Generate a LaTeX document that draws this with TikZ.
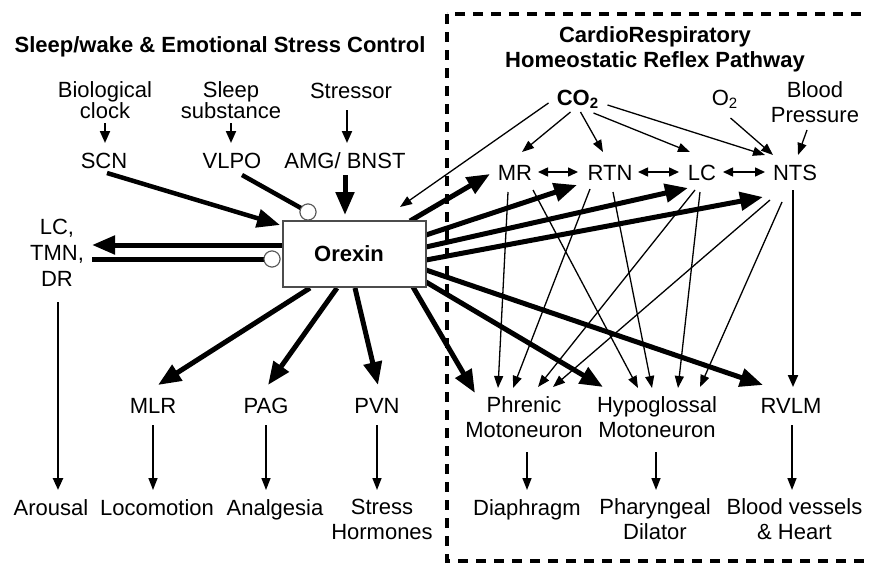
\documentclass[tikz,border=0pt]{standalone}
\usepackage{fontspec}
\setmainfont{Liberation Sans}
\usetikzlibrary{arrows.meta,calc}
\begin{document}
\lineskiplimit=-30pt
\begin{tikzpicture}[x=1pt,y=-1pt,
  every node/.style={inner sep=0pt, outer sep=0pt},
  txt/.style={font=\fontsize{22}{25}\selectfont},
  mtxt/.style={font=\fontsize{22}{25}\selectfont, align=center},
  tighttxt/.style={font=\fontsize{22}{20.5}\selectfont, align=center},
  btxt/.style={font=\bfseries\fontsize{22}{25}\selectfont},
  mbtxt/.style={font=\bfseries\fontsize{22}{25}\selectfont, align=center},
  bigarr/.style={line width=5pt, -{Triangle[length=23pt,width=18pt]}},
  thinarr/.style={line width=1.3pt, -{Triangle[length=12pt,width=9pt]}},
  medarr/.style={line width=2pt, -{Triangle[length=12pt,width=10pt]}},
  dblarr/.style={line width=1.5pt, {Triangle[length=10pt,width=9pt]}-{Triangle[length=10pt,width=9pt]}},
  inhline/.style={line width=4.5pt},
  inhib/.style={circle, draw=black!65, line width=1pt, fill=white, minimum size=16pt},
  dashframe/.style={line width=4.5pt, dash pattern=on 10pt off 8pt},
  orexbox/.style={draw=black!70, line width=1.2pt, fill=white, minimum width=143pt, minimum height=66pt, font=\bfseries\fontsize{22}{25}\selectfont}
]
\useasboundingbox (0,0) rectangle (869,562);
\clip (0,0) rectangle (869,562);
\fill[white] (0,0) rectangle (869,562);

% dashed frame
\draw[dashframe] (447,14) rectangle (890,561);

% titles
\node[btxt, anchor=base] (title1) at (220,52) {Sleep/wake \& Emotional Stress Control};
\node[mbtxt, anchor=north] (title2) at (655,27) {CardioRespiratory\\Homeostatic Reflex Pathway};

% left side nodes
\node[tighttxt, anchor=north] (bio) at (105,82) {Biological\\clock};
\node[tighttxt, anchor=north] (sleepsub) at (231,82) {Sleep\\substance};
\node[txt, anchor=base] (stressor) at (351,98) {Stressor};
\node[txt, anchor=base] (scn) at (104,168) {SCN};
\node[txt, anchor=base] (vlpo) at (232,168) {VLPO};
\node[txt, anchor=base] (amg) at (345,168) {AMG/ BNST};
\node[mtxt, font=\fontsize{22}{26}\selectfont, anchor=north] (lctmn) at (57,219) {LC,\\TMN,\\DR};
\node[txt, anchor=base] (mlr) at (153,413) {MLR};
\node[txt, anchor=base] (pag) at (266,413) {PAG};
\node[txt, anchor=base] (pvn) at (377,413) {PVN};
\node[txt, anchor=base] (arousal) at (51,515) {Arousal};
\node[txt, anchor=base] (loco) at (157,515) {Locomotion};
\node[txt, anchor=base] (analg) at (275,515) {Analgesia};
\node[mtxt, anchor=north] (stressh) at (382,499) {Stress\\Hormones};

% right side nodes
\node[btxt, anchor=base] (co2) at (577.5,105) {CO\raisebox{-3pt}{\fontsize{15}{15}\selectfont 2}};
\node[txt, anchor=base] (o2) at (724.5,105) {O\raisebox{-3pt}{\fontsize{15}{15}\selectfont 2}};
\node[mtxt, anchor=north] (bp) at (815,82) {Blood\\Pressure};
\node[txt, anchor=base] (mr) at (515,180) {MR};
\node[txt, anchor=base] (rtn) at (610,180) {RTN};
\node[txt, anchor=base] (lc) at (702,180) {LC};
\node[txt, anchor=base] (nts) at (795,180) {NTS};
\node[mtxt, anchor=north] (phr) at (524,397) {Phrenic\\Motoneuron};
\node[mtxt, anchor=north] (hyp) at (657,397) {Hypoglossal\\Motoneuron};
\node[txt, anchor=base] (rvlm) at (791,413) {RVLM};
\node[txt, anchor=base] (dia) at (527,515) {Diaphragm};
\node[mtxt, anchor=north] (pharyn) at (655,499) {Pharyngeal\\Dilator};
\node[mtxt, anchor=north] (bloodv) at (794.5,499) {Blood vessels\\\& Heart};

% Orexin box
\node[orexbox] (orexin) at (354.5,254) {\hspace*{-11pt}Orexin};

% inputs to left nodes
\draw[medarr] ($(bio.north)+(0,41)$) -- ($(scn.base)+(1,-25)$);
\draw[medarr] ($(sleepsub.north)+(0,41)$) -- ($(vlpo.base)+(-1,-25)$);
\draw[medarr] ($(stressor.base)+(-4,12)$) -- ($(amg.base)+(2,-25)$);

% into Orexin
\draw[bigarr, line width=4.5pt] ($(scn.base)+(3,5)$) -- ($(orexin.north west)+(-3,4)$);
\draw[bigarr] ($(amg.base)+(0,7)$) -- ($(orexin.north)+(-9.5,-6)$);
\draw[thinarr] ($(co2.base)+(-29,-2)$) -- ($(orexin.north east)+(-26,-14)$);

% inhibitory
\node[inhib] (c1) at ($(orexin.north west)+(25,-9)$) {};
\node[inhib] (c2) at ($(orexin.west)+(-11,5)$) {};
\draw[inhline] ($(vlpo.base)+(10,7)$) -- (c1);
\draw[inhline, line width=5pt] ($(lctmn.north)+(35,40)$) -- (c2);

% Orexin to left/bottom
\draw[bigarr] ($(orexin.west)+(0,-9)$) -- ($(lctmn.north)+(35,26)$);
\draw[medarr, line width=2.5pt] ($(lctmn.north)+(1,83)$) -- ($(arousal.base)+(7,-25)$);
\draw[bigarr] ($(orexin.south west)+(27,1)$) -- ($(mlr.base)+(5,-28)$);
\draw[bigarr] ($(orexin.south west)+(54,1)$) -- ($(pag.base)+(2,-28)$);
\draw[bigarr] ($(orexin.south)+(0.5,1)$) -- ($(pvn.base)+(1,-28)$);
\draw[thinarr, line width=1.5pt] ($(mlr.base)+(0,12)$) -- ($(loco.base)+(-4,-25)$);
\draw[thinarr, line width=1.5pt] ($(pag.base)+(0,12)$) -- ($(analg.base)+(-9,-25)$);
\draw[thinarr, line width=1.5pt] ($(pvn.base)+(0,12)$) -- ($(stressh.north)+(-5,-9)$);

% Orexin to right
\draw[bigarr] ($(orexin.north east)+(-16,0)$) -- ($(mr.base)+(-25,-6)$);
\draw[bigarr] ($(orexin.north east)+(0,14)$) -- ($(rtn.base)+(-33,5)$);
\draw[bigarr] ($(orexin.north east)+(0,26)$) -- ($(lc.base)+(-14,8)$);
\draw[bigarr] ($(orexin.north east)+(0,39)$) -- ($(nts.base)+(-32,17)$);
\draw[bigarr] ($(orexin.north east)+(0,49)$) -- ($(rvlm.base)+(-28,-28)$);
\draw[bigarr] ($(orexin.north east)+(0,61)$) -- ($(hyp.north)+(-54,-10)$);
\draw[bigarr] ($(orexin.south east)+(-13,0)$) -- ($(phr.north)+(-49,-4)$);

% CO2, O2, BP inputs
\draw[thinarr] ($(co2.base)+(-7,7)$) -- ($(mr.base)+(7,-28)$);
\draw[thinarr] ($(co2.base)+(3,7)$) -- ($(rtn.base)+(-7,-28)$);
\draw[thinarr] ($(co2.base)+(16,8)$) -- ($(lc.base)+(-12,-28)$);
\draw[thinarr] ($(co2.base)+(30,0)$) -- ($(nts.base)+(-30,-25)$);
\draw[thinarr] ($(o2.base)+(6,13)$) -- ($(nts.base)+(-22,-25)$);
\draw[thinarr] ($(bp.north)+(-8,48)$) -- ($(nts.base)+(3,-25)$);

% reciprocal
\draw[dblarr] ($(mr.base)+(23,-8)$) -- ($(rtn.base)+(-32,-8)$);
\draw[dblarr] ($(rtn.base)+(28,-8)$) -- ($(lc.base)+(-23,-8)$);
\draw[dblarr] ($(lc.base)+(21,-8)$) -- ($(nts.base)+(-30,-8)$);

% to motoneurons
\draw[thinarr] ($(mr.base)+(-7,12)$) -- ($(phr.north)+(-26,-9)$);
\draw[thinarr] ($(mr.base)+(18,10)$) -- ($(hyp.north)+(-19,-9)$);
\draw[thinarr] ($(rtn.base)+(-20,9)$) -- ($(phr.north)+(-11,-9)$);
\draw[thinarr] ($(rtn.base)+(3,12)$) -- ($(hyp.north)+(-5,-9)$);
\draw[thinarr] ($(lc.base)+(-7,10)$) -- ($(phr.north)+(14,-10)$);
\draw[thinarr] ($(lc.base)+(-2,12)$) -- ($(hyp.north)+(21,-9)$);
\draw[thinarr] ($(nts.base)+(-25,20)$) -- ($(phr.north)+(29,-10)$);
\draw[thinarr] ($(nts.base)+(-13,22)$) -- ($(hyp.north)+(43,-10)$);
\draw[medarr] ($(nts.base)+(-2,10)$) -- ($(rvlm.base)+(2,-26)$);

% outputs
\draw[thinarr, line width=1.5pt] ($(phr.north)+(3,55)$) -- ($(dia.base)+(0,-25)$);
\draw[thinarr, line width=1.5pt] ($(hyp.north)+(-1,55)$) -- ($(pharyn.north)+(1,-9)$);
\draw[thinarr, line width=1.5pt] ($(rvlm.base)+(1,12)$) -- ($(bloodv.north)+(-2.5,-9)$);

% bring circles and box on top
\node[inhib] at (c1) {};
\node[inhib] at (c2) {};
\node[orexbox] at (orexin) {\hspace*{-11pt}Orexin};
\end{tikzpicture}
\end{document}
